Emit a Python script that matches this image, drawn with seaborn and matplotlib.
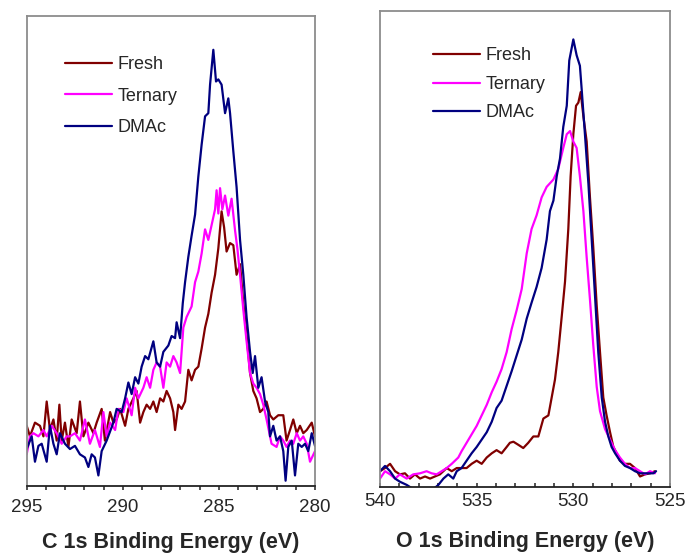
import numpy as np
import pandas as pd
import matplotlib
matplotlib.use("Agg")
import matplotlib.pyplot as plt
from matplotlib.ticker import MultipleLocator
import seaborn as sns

# ---------------- C 1s spectra (binding energy eV, intensity a.u.) ----------------
c_fresh_be = [295.00, 294.83, 294.57, 294.31, 294.13, 293.96, 293.79, 293.61, 293.44, 293.30,
              293.18, 293.01, 292.83, 292.66, 292.40, 292.23, 292.05, 291.79, 291.53, 291.36,
              291.10, 290.93, 290.66, 290.49, 290.32, 290.14, 289.88, 289.71, 289.45, 289.28,
              289.10, 288.93, 288.76, 288.58, 288.41, 288.24, 288.06, 287.89, 287.72, 287.54,
              287.37, 287.28, 287.11, 286.94, 286.76, 286.59, 286.42, 286.24, 286.07, 285.90,
              285.72, 285.55, 285.38, 285.20, 285.03, 284.86, 284.73, 284.60, 284.42, 284.25,
              284.08, 283.90, 283.73, 283.56, 283.38, 283.21, 283.04, 282.86, 282.69, 282.52,
              282.34, 282.17, 281.91, 281.65, 281.48, 281.30, 281.13, 280.95, 280.78, 280.61,
              280.43, 280.17, 280.00]
c_fresh_int = [57, 47, 60, 57, 47, 80, 53, 63, 43, 77,
               43, 60, 37, 63, 50, 80, 47, 60, 50, 60,
               73, 43, 70, 60, 63, 73, 57, 73, 83, 90,
               60, 70, 77, 73, 80, 70, 83, 80, 90, 83,
               70, 53, 77, 73, 80, 110, 100, 110, 113, 130,
               150, 163, 183, 200, 225, 260, 245, 222, 230, 228,
               200, 210, 173, 143, 107, 90, 83, 70, 73, 80,
               67, 63, 67, 67, 43, 53, 63, 50, 57, 50,
               53, 60, 47]

c_tern_be = [295.00, 294.83, 294.65, 294.39, 294.13, 293.96, 293.70, 293.44, 293.18, 292.92,
             292.75, 292.49, 292.23, 291.97, 291.71, 291.45, 291.19, 291.01, 290.84, 290.66,
             290.40, 290.23, 289.97, 289.80, 289.54, 289.36, 289.19, 288.93, 288.76, 288.58,
             288.41, 288.24, 288.06, 287.89, 287.72, 287.54, 287.37, 287.20, 287.02, 286.85,
             286.68, 286.42, 286.24, 286.07, 285.90, 285.72, 285.55, 285.38, 285.20, 285.12,
             285.03, 284.94, 284.82, 284.68, 284.51, 284.34, 284.16, 284.04, 283.90, 283.73,
             283.56, 283.38, 283.21, 283.04, 282.86, 282.69, 282.52, 282.26, 282.00, 281.82,
             281.65, 281.48, 281.30, 281.13, 280.95, 280.78, 280.61, 280.43, 280.26, 280.00]
c_tern_int = [30, 47, 50, 47, 53, 47, 57, 50, 40, 47,
              47, 50, 43, 63, 40, 53, 37, 70, 47, 60,
              53, 73, 70, 83, 67, 93, 83, 93, 103, 93,
              110, 117, 113, 93, 117, 113, 123, 117, 107, 150,
              160, 170, 193, 203, 220, 243, 233, 247, 262, 280,
              258, 282, 262, 275, 256, 272, 242, 225, 200, 167,
              137, 107, 97, 93, 87, 77, 63, 40, 37, 47,
              43, 37, 43, 40, 50, 43, 47, 40, 23, 33]

c_dmac_be = [295.00, 294.74, 294.57, 294.39, 294.22, 293.96, 293.79, 293.61, 293.44, 293.27,
             293.01, 292.75, 292.49, 292.23, 291.97, 291.79, 291.62, 291.45, 291.27, 291.10,
             290.84, 290.49, 290.32, 290.06, 289.88, 289.71, 289.54, 289.36, 289.19, 289.02,
             288.84, 288.67, 288.41, 288.24, 288.06, 287.89, 287.63, 287.46, 287.28, 287.20,
             287.02, 286.88, 286.76, 286.59, 286.42, 286.24, 286.07, 285.90, 285.72, 285.55,
             285.46, 285.29, 285.15, 285.03, 284.86, 284.68, 284.51, 284.42, 284.25, 284.08,
             283.90, 283.73, 283.56, 283.38, 283.24, 283.12, 282.95, 282.78, 282.60, 282.43,
             282.34, 282.17, 282.00, 281.82, 281.65, 281.53, 281.39, 281.21, 281.04, 280.87,
             280.69, 280.52, 280.35, 280.17, 280.00]
c_dmac_int = [35, 47, 23, 38, 40, 23, 57, 40, 30, 50,
              40, 35, 38, 30, 27, 18, 30, 27, 10, 33,
              43, 60, 73, 70, 83, 98, 87, 103, 97, 113,
              123, 120, 137, 117, 113, 127, 133, 142, 140, 155,
              140, 173, 193, 217, 237, 257, 293, 323, 350, 353,
              380, 413, 383, 385, 380, 353, 367, 353, 317, 283,
              233, 200, 160, 127, 107, 123, 93, 103, 80, 70,
              47, 57, 43, 47, 33, 5, 37, 43, 10, 40,
              37, 40, 33, 50, 38]

# ---------------- O 1s spectra ----------------
o_fresh_be = [540.00, 539.74, 539.48, 539.22, 538.97, 538.71, 538.45, 538.19, 537.93, 537.67,
              537.41, 537.16, 536.90, 536.55, 536.29, 536.03, 535.78, 535.52, 535.26, 535.00,
              534.74, 534.48, 534.22, 533.97, 533.71, 533.45, 533.28, 533.10, 532.84, 532.59,
              532.33, 532.07, 531.81, 531.55, 531.29, 531.12, 530.95, 530.78, 530.60, 530.43,
              530.26, 530.14, 530.00, 529.86, 529.74, 529.62, 529.48, 529.31, 529.14, 528.97,
              528.79, 528.62, 528.45, 528.28, 528.10, 527.93, 527.76, 527.59, 527.33, 527.07,
              526.81, 526.55, 526.29, 526.03, 525.78]
o_fresh_int = [15, 18, 22, 15, 12, 13, 8, 12, 8, 10,
               8, 10, 12, 18, 15, 18, 18, 18, 22, 25,
               22, 28, 32, 35, 32, 38, 42, 43, 40, 37,
               42, 48, 48, 65, 68, 85, 102, 128, 162, 195,
               245, 295, 335, 362, 365, 375, 352, 328, 275, 228,
               172, 128, 85, 68, 52, 38, 32, 25, 22, 22,
               18, 10, 12, 13, 15]

o_tern_be = [540.00, 539.74, 539.48, 539.22, 538.97, 538.62, 538.28, 537.93, 537.59, 537.33,
             537.07, 536.81, 536.55, 536.29, 536.12, 535.95, 535.78, 535.52, 535.26, 535.00,
             534.74, 534.48, 534.22, 533.97, 533.71, 533.45, 533.19, 532.93, 532.67, 532.41,
             532.16, 531.90, 531.64, 531.38, 531.03, 530.78, 530.52, 530.34, 530.17, 530.00,
             529.83, 529.66, 529.48, 529.31, 529.14, 528.97, 528.79, 528.62, 528.36, 528.10,
             527.84, 527.59, 527.33, 527.07, 526.81, 526.55, 526.29, 526.03, 525.78]
o_tern_int = [8, 15, 12, 8, 12, 8, 12, 13, 15, 13,
              12, 15, 18, 22, 25, 28, 34, 42, 50, 58,
              68, 78, 90, 100, 112, 128, 150, 168, 188, 222,
              245, 258, 275, 285, 292, 302, 322, 335, 338, 328,
              322, 295, 262, 218, 178, 135, 95, 72, 55, 45,
              35, 28, 22, 18, 18, 15, 12, 15, 13]

o_dmac_be = [540.00, 539.74, 539.48, 539.22, 538.97, 538.62, 538.28, 537.93, 537.59, 537.24,
             536.98, 536.72, 536.47, 536.21, 536.03, 535.78, 535.52, 535.26, 535.00, 534.74,
             534.48, 534.22, 533.97, 533.71, 533.45, 533.19, 532.93, 532.67, 532.41, 532.16,
             531.90, 531.64, 531.38, 531.21, 531.03, 530.86, 530.69, 530.52, 530.34, 530.21,
             530.00, 529.83, 529.66, 529.57, 529.40, 529.22, 529.05, 528.88, 528.71, 528.53,
             528.36, 528.19, 528.02, 527.84, 527.59, 527.33, 527.07, 526.81, 526.55, 526.21,
             525.86, 525.72]
o_dmac_int = [15, 20, 15, 8, 5, 2, -2, -2, -2, -2,
              2, 8, 12, 8, 15, 18, 25, 32, 38, 45,
              52, 62, 75, 82, 96, 110, 125, 140, 160, 175,
              190, 208, 235, 262, 272, 295, 312, 342, 362, 405,
              425, 410, 400, 378, 335, 288, 235, 182, 128, 85,
              62, 48, 38, 32, 25, 20, 18, 15, 13, 13,
              13, 15]

samples = ["Fresh", "Ternary", "DMAc"]
colors = {"Fresh": "#800000", "Ternary": "#FF00FF", "DMAc": "#000080"}

c_ticks = [295, 290, 285, 280]
o_ticks = [540, 535, 530, 525]


def make_df(pairs):
    frames = []
    for name, (be, inten) in zip(samples, pairs):
        frames.append(pd.DataFrame({"be": be, "intensity": inten, "sample": name}))
    return pd.concat(frames, ignore_index=True)


df_c = make_df([(c_fresh_be, c_fresh_int), (c_tern_be, c_tern_int), (c_dmac_be, c_dmac_int)])
df_o = make_df([(o_fresh_be, o_fresh_int), (o_tern_be, o_tern_int), (o_dmac_be, o_dmac_int)])

sns.set_style("white")
plt.rcParams["font.family"] = ["Liberation Sans", "DejaVu Sans"]

W, H = 685, 553
fig = plt.figure(figsize=(W / 100, H / 100), dpi=100)

# axes placement in pixels (left, top, right, bottom)
ax1 = fig.add_axes([26.7 / W, (H - 486) / H, (315 - 26.7) / W, (486 - 16) / H])
ax2 = fig.add_axes([380 / W, (H - 487) / H, (670 - 380) / W, (487 - 11) / H])

panels = [
    (ax1, df_c, c_ticks, (295, 280), 445, "out", 6.0, "C 1s Binding Energy (eV)",
     -0.098, (0.133, 0.914), 0.79),
    (ax2, df_o, o_ticks, (540, 525), 452, "in", 4.0, "O 1s Binding Energy (eV)",
     -0.092, (0.182, 0.924), 0.645),
]

for ax, df, ticks, xl, ylim_top, tickdir, tpad, label, lab_y, leg_xy, lspace in panels:
    sns.lineplot(data=df, x="be", y="intensity", hue="sample", hue_order=samples,
                 palette=colors, estimator=None, sort=False, linewidth=1.6, ax=ax)
    ax.set_xlim(*xl)
    ax.set_ylim(0, ylim_top)
    ax.set_xticks(ticks)
    ax.xaxis.set_minor_locator(MultipleLocator(1))
    ax.set_yticks([])
    ax.set_ylabel("")
    ax.set_xlabel(label, fontsize=15.5, fontweight="bold")
    ax.xaxis.set_label_coords(0.5, lab_y)
    ax.tick_params(axis="x", which="both", direction=tickdir, length=3.2, width=1.1,
                   color="#222222", labelsize=13.5, pad=tpad, bottom=True)
    for side in ["left", "right", "top"]:
        ax.spines[side].set_color("#8c8c8c")
        ax.spines[side].set_linewidth(1.3)
        ax.spines[side].set_visible(True)
    ax.spines["bottom"].set_color("#222222")
    ax.spines["bottom"].set_linewidth(1.3)
    sns.move_legend(ax, loc="upper left", bbox_to_anchor=leg_xy, frameon=False, title=None,
                    fontsize=13, handlelength=2.6, handletextpad=0.3, labelspacing=lspace,
                    borderpad=0, borderaxespad=0)

fig.savefig("out.png", dpi=100)
